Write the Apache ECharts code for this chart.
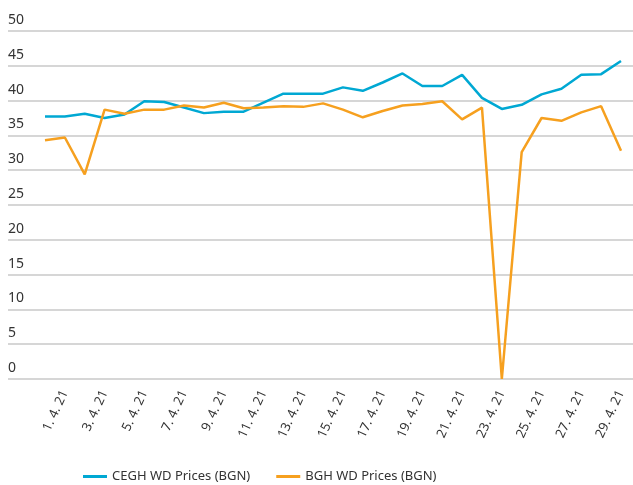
<!DOCTYPE html>
<html>
<head>
<meta charset="utf-8">
<script src="https://cdn.jsdelivr.net/npm/echarts@6/dist/echarts.min.js"></script>
<style>
  html, body { margin: 0; padding: 0; background: #fff; }
  #chart { width: 633px; height: 485px; }
</style>
</head>
<body>
<div id="chart"></div>
<script>
// dates (first point is the day before 1. 4. 21, labels on every 2nd day)
const days = ['31. 3. 21'];
for (let d = 1; d <= 29; d++) days.push(d + '. 4. 21');

const ceghPrices = [37.7, 37.7, 38.1, 37.5, 38.0, 39.9, 39.8, 39.0, 38.2, 38.4,
  38.4, 39.7, 41.0, 41.0, 41.0, 41.9, 41.4, 42.6, 43.9, 42.1,
  42.1, 43.7, 40.4, 38.8, 39.4, 40.9, 41.7, 43.7, 43.8, 45.7];
const bghPrices = [34.3, 34.7, 29.4, 38.7, 38.1, 38.7, 38.7, 39.3, 39.0, 39.7,
  38.9, 39.0, 39.2, 39.1, 39.6, 38.7, 37.6, 38.5, 39.3, 39.5,
  39.9, 37.3, 39.0, 0, 32.6, 37.5, 37.1, 38.3, 39.2, 32.8];

const yTicks = { min: 0, max: 50, interval: 5 };

const chart = echarts.init(document.getElementById('chart'));

const font = 'Noto Sans';
chart.setOption({
  animation: false,
  textStyle: { fontFamily: font },
  grid: [
    { left: 8, right: 0, top: 31, bottom: 106 },
    { left: 45, right: 12, top: 31, bottom: 106 }
  ],
  legend: {
    left: 78,
    bottom: -3,
    icon: 'rect',
    itemWidth: 24,
    itemHeight: 3,
    itemGap: 26,
    textStyle: { color: '#333', fontSize: 13, fontFamily: font },
    data: ['CEGH WD Prices (BGN)', 'BGH WD Prices (BGN)']
  },
  xAxis: [
    { gridIndex: 0, type: 'value', min: 0, max: 1, show: false },
    {
      gridIndex: 1,
      type: 'category',
      boundaryGap: false,
      data: days,
      axisLine: { show: false },
      axisTick: { show: false },
      axisLabel: {
        interval: (i) => i % 2 === 1,
        rotate: 65,
        margin: 12,
        color: '#333',
        fontSize: 13
      }
    }
  ],
  yAxis: [
    {
      gridIndex: 0,
      type: 'value',
      min: yTicks.min,
      max: yTicks.max,
      interval: yTicks.interval,
      axisLine: { show: false },
      axisTick: { show: false },
      splitLine: { lineStyle: { color: '#d6d6d6', width: 2 } },
      axisLabel: {
        inside: true,
        margin: 0,
        verticalAlign: 'bottom',
        padding: [0, 0, 4, 0],
        color: '#333',
        fontSize: 14
      }
    },
    {
      gridIndex: 1,
      type: 'value',
      min: yTicks.min,
      max: yTicks.max,
      interval: yTicks.interval,
      show: false
    }
  ],
  series: [
    {
      name: 'CEGH WD Prices (BGN)',
      type: 'line',
      xAxisIndex: 1,
      yAxisIndex: 1,
      data: ceghPrices,
      symbol: 'none',
      lineStyle: { color: '#00A8D3', width: 2.5 },
      itemStyle: { color: '#00A8D3' }
    },
    {
      name: 'BGH WD Prices (BGN)',
      type: 'line',
      xAxisIndex: 1,
      yAxisIndex: 1,
      data: bghPrices,
      symbol: 'none',
      lineStyle: { color: '#F6A01F', width: 2.5 },
      itemStyle: { color: '#F6A01F' }
    }
  ]
});
</script>
</body>
</html>
